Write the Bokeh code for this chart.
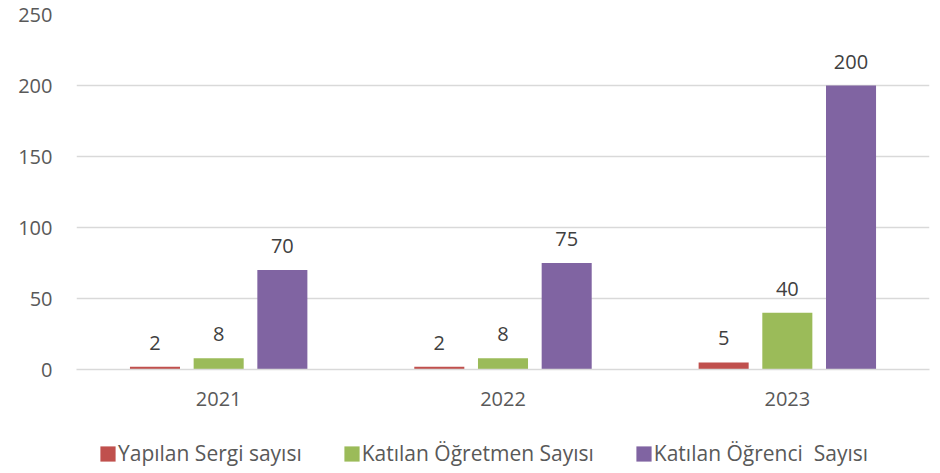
from bokeh.plotting import figure
from bokeh.layouts import column
from bokeh.models import ColumnDataSource, Legend, LegendItem, LabelSet, Range1d, FactorRange
from bokeh.core.properties import value
from bokeh.transform import dodge
from bokeh.embed import file_html
from bokeh.resources import INLINE

years = ["2021", "2022", "2023"]
sergi = [2, 2, 5]
ogretmen = [8, 8, 40]
ogrenci = [70, 75, 200]
series_names = ["Yapılan Sergi sayısı", "Katılan Öğretmen Sayısı", "Katılan Öğrenci  Sayısı"]
colors = ["#C0504D", "#9BBB59", "#8064A2"]
y_ticks = [0, 50, 100, 150, 200, 250]

src = ColumnDataSource(dict(years=years, s0=sergi, s1=ogretmen, s2=ogrenci,
                            l0=[str(v) for v in sergi], l1=[str(v) for v in ogretmen],
                            l2=[str(v) for v in ogrenci]))

FONT = "Open Sans"
FS = "20px"
p = figure(width=940, height=415, x_range=FactorRange(*years), y_range=Range1d(0, 250),
           output_backend="svg", toolbar_location=None,
           min_border_left=76, min_border_right=11, min_border_top=14, min_border_bottom=46)
p.outline_line_color = None
p.xgrid.grid_line_color = None
p.ygrid.grid_line_color = "#D9D9D9"
p.ygrid.grid_line_width = 1.5
p.yaxis.ticker = y_ticks
p.yaxis.axis_line_color = None
p.yaxis.major_tick_line_color = None
p.yaxis.minor_tick_line_color = None
p.yaxis.major_label_text_font = FONT
p.yaxis.major_label_text_font_size = FS
p.yaxis.major_label_text_color = "#595959"
p.yaxis.major_label_standoff = 18
p.xaxis.axis_line_color = "#D9D9D9"
p.xaxis.axis_line_width = 1.5
p.xaxis.major_tick_line_color = None
p.xaxis.minor_tick_line_color = None
p.xaxis.major_label_text_font = FONT
p.xaxis.major_label_text_font_size = FS
p.xaxis.major_label_text_color = "#595959"
p.xaxis.major_label_standoff = 16

offsets = [-0.224, 0.0, 0.224]
renderers = []
for i in range(3):
    r = p.vbar(x=dodge("years", offsets[i], range=p.x_range), top="s%d" % i, width=0.176,
               source=src, fill_color=colors[i], line_color=None)
    renderers.append(r)
    lbl = LabelSet(x=dodge("years", offsets[i], range=p.x_range), y="s%d" % i, text="l%d" % i,
                   source=src, text_align="center", text_baseline="alphabetic", y_offset=17,
                   text_font=value(FONT), text_font_size=FS, text_color="#404040")
    p.add_layout(lbl)

# legend strip under the chart (swatch renderers lie outside its visible range)
lg = figure(width=940, height=58, x_range=Range1d(0, 1), y_range=Range1d(0, 1),
            output_backend="svg", toolbar_location=None,
            min_border_left=0, min_border_right=0, min_border_top=0, min_border_bottom=0)
lg.axis.visible = False
lg.grid.visible = False
lg.outline_line_color = None
swatch_src = ColumnDataSource(dict(x=[-5], top=[-5]))
dummies = [lg.vbar(x="x", top="top", width=0.1, source=swatch_src, fill_color=c, line_color=None)
           for c in colors]
legend = Legend(items=[LegendItem(label=series_names[i], renderers=[dummies[i]]) for i in range(3)],
                orientation="horizontal", location=(22, 6),
                label_text_font=FONT, label_text_font_size="21px", label_text_color="#595959",
                glyph_width=19, glyph_height=19, spacing=40, label_standoff=1,
                border_line_color=None, background_fill_alpha=0, margin=0, padding=0)
lg.add_layout(legend, "center")

open("out.html", "w").write(file_html(column(p, lg, spacing=0), INLINE))
